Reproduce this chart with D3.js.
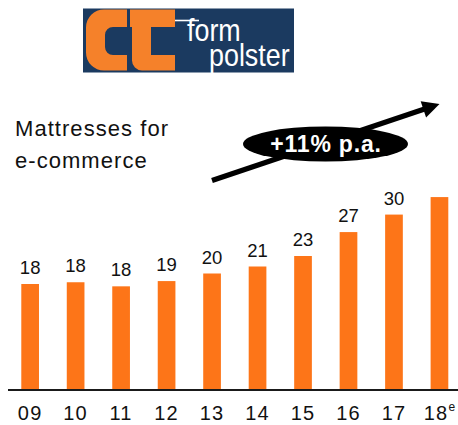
<!DOCTYPE html>
<html>
<head>
<meta charset="utf-8">
<script src="https://cdn.jsdelivr.net/npm/d3@7"></script>
<style>
  html, body { margin: 0; padding: 0; background: #fff; }
  svg { display: block; }
  text { font-family: "Liberation Sans", Arial, Helvetica, sans-serif; }
</style>
</head>
<body>
<svg id="chart" width="458" height="425"></svg>
<script>
// ---- data ----
const years = ["09", "10", "11", "12", "13", "14", "15", "16", "17", "18"];
const values = [18.0, 18.3, 17.6, 18.5, 19.8, 21.0, 22.8, 26.9, 29.9, 32.9];
const valueLabels = ["18", "18", "18", "19", "20", "21", "23", "27", "30", ""];
const estimateMarks = ["", "", "", "", "", "", "", "", "", "e"];
const titleLines = ["Mattresses for", "e-commerce"];
const growthLabel = "+11% p.a.";
const logoWords = ["form", "polster"];

const svg = d3.select("#chart");
const W = 458, H = 425;

// ---- scales ----
const x = d3.scaleBand()
  .domain(years)
  .range([7.4, 462.2])
  .paddingInner(0.611)
  .paddingOuter(0.3055);

const y = d3.scaleLinear()
  .domain([0, 30])
  .range([389, 214]);

const barColor = "#fd7518";

// ---- bars ----
svg.append("g").selectAll("rect")
  .data(values)
  .join("rect")
  .attr("x", (d, i) => x(years[i]))
  .attr("y", d => y(d))
  .attr("width", x.bandwidth())
  .attr("height", d => y(0) - y(d))
  .attr("fill", barColor);

// ---- value labels ----
svg.append("g").selectAll("text")
  .data(values)
  .join("text")
  .attr("x", (d, i) => x(years[i]) + x.bandwidth() / 2)
  .attr("y", d => y(d) - 10)
  .attr("text-anchor", "middle")
  .attr("font-size", 18.5)
  .attr("fill", "#111")
  .text((d, i) => valueLabels[i]);

// ---- x axis ----
const xAxis = d3.axisBottom(x).tickSize(0).tickPadding(0);
const axisG = svg.append("g")
  .attr("transform", `translate(0,${y(0) + 1})`)
  .call(xAxis);
axisG.select(".domain").remove();
axisG.append("line")
  .attr("x1", 8).attr("x2", W)
  .attr("y1", 0).attr("y2", 0)
  .attr("stroke", "#1a1a1a").attr("stroke-width", 2);
axisG.selectAll(".tick text")
  .attr("y", 30)
  .attr("dy", null)
  .attr("font-size", 20)
  .attr("letter-spacing", 1.2)
  .attr("fill", "#111")
  .style("font-family", "'Liberation Sans', Arial, sans-serif")
  .each(function(d, i) {
    const mark = estimateMarks[i];
    if (mark) {
      d3.select(this).append("tspan")
        .attr("dy", -9)
        .attr("font-size", 12)
        .attr("letter-spacing", 0)
        .text(mark);
    }
  });

// ---- title ----
svg.append("g").selectAll("text")
  .data(titleLines)
  .join("text")
  .attr("x", 15)
  .attr("y", (d, i) => 136 + i * 32)
  .attr("font-size", 22)
  .attr("letter-spacing", 1.05)
  .attr("fill", "#111")
  .text(d => d);

// ---- growth arrow ----
const arrowStart = [212, 180.5];
const arrowTip = [439.5, 104];
const ang = Math.atan2(arrowTip[1] - arrowStart[1], arrowTip[0] - arrowStart[0]);
const headLen = 17, headHalf = 8.5;
const baseX = arrowTip[0] - headLen * Math.cos(ang);
const baseY = arrowTip[1] - headLen * Math.sin(ang);
svg.append("line")
  .attr("x1", arrowStart[0]).attr("y1", arrowStart[1])
  .attr("x2", baseX + 2 * Math.cos(ang)).attr("y2", baseY + 2 * Math.sin(ang))
  .attr("stroke", "#000").attr("stroke-width", 5.2);
svg.append("path")
  .attr("d", d3.line()([
    arrowTip,
    [baseX - headHalf * Math.sin(ang), baseY + headHalf * Math.cos(ang)],
    [baseX + headHalf * Math.sin(ang), baseY - headHalf * Math.cos(ang)]
  ]) + "Z")
  .attr("fill", "#000");

svg.append("ellipse")
  .attr("cx", 325.5).attr("cy", 144)
  .attr("rx", 82.5).attr("ry", 17.5)
  .attr("fill", "#000");
svg.append("text")
  .attr("x", 326).attr("y", 151.5)
  .attr("text-anchor", "middle")
  .attr("font-size", 23)
  .attr("font-weight", "bold")
  .attr("letter-spacing", 0.8)
  .attr("fill", "#fff")
  .text(growthLabel);

// ---- logo ----
const logo = svg.append("g");
const navy = "#1b3a60", logoOrange = "#f5812a";
logo.append("rect").attr("x", 83).attr("y", 8.5).attr("width", 211).attr("height", 64).attr("fill", navy);

// C shape
const cPath = d3.path();
cPath.moveTo(127, 9.5);
cPath.lineTo(104, 9.5);
cPath.arcTo(86, 9.5, 86, 27.5, 18);
cPath.lineTo(86, 52);
cPath.arcTo(86, 70.5, 104, 70.5, 18);
cPath.lineTo(127, 70.5);
cPath.lineTo(127, 55);
cPath.lineTo(113, 55);
cPath.arcTo(105, 55, 105, 47, 8);
cPath.lineTo(105, 35);
cPath.arcTo(105, 27, 113, 27, 8);
cPath.lineTo(127, 27);
cPath.closePath();
logo.append("path").attr("d", cPath.toString()).attr("fill", logoOrange);

// t shape
const tPath = d3.path();
tPath.moveTo(130, 9.5);
tPath.lineTo(175, 9.5);
tPath.lineTo(175, 27);
tPath.lineTo(151, 27);
tPath.lineTo(151, 55);
tPath.lineTo(175, 55);
tPath.lineTo(175, 70.5);
tPath.lineTo(142, 70.5);
tPath.arcTo(132, 70.5, 132, 60.5, 10);
tPath.lineTo(132, 27);
tPath.lineTo(130, 27);
tPath.closePath();
logo.append("path").attr("d", tPath.toString()).attr("fill", logoOrange);

// f crossbar extension
logo.append("line").attr("x1", 175).attr("x2", 199).attr("y1", 20.5).attr("y2", 20.5)
  .attr("stroke", "#fff").attr("stroke-width", 1.6);

const sx = 0.84;
const logoText = logo.append("text")
  .attr("transform", `scale(${sx},1)`)
  .attr("font-size", 32)
  .attr("fill", "#fff");
logoText.append("tspan").attr("x", 187 / sx).attr("y", 41.5).text(logoWords[0]);
logoText.append("tspan").attr("x", 209 / sx).attr("y", 66).text(logoWords[1]);
</script>
</body>
</html>
